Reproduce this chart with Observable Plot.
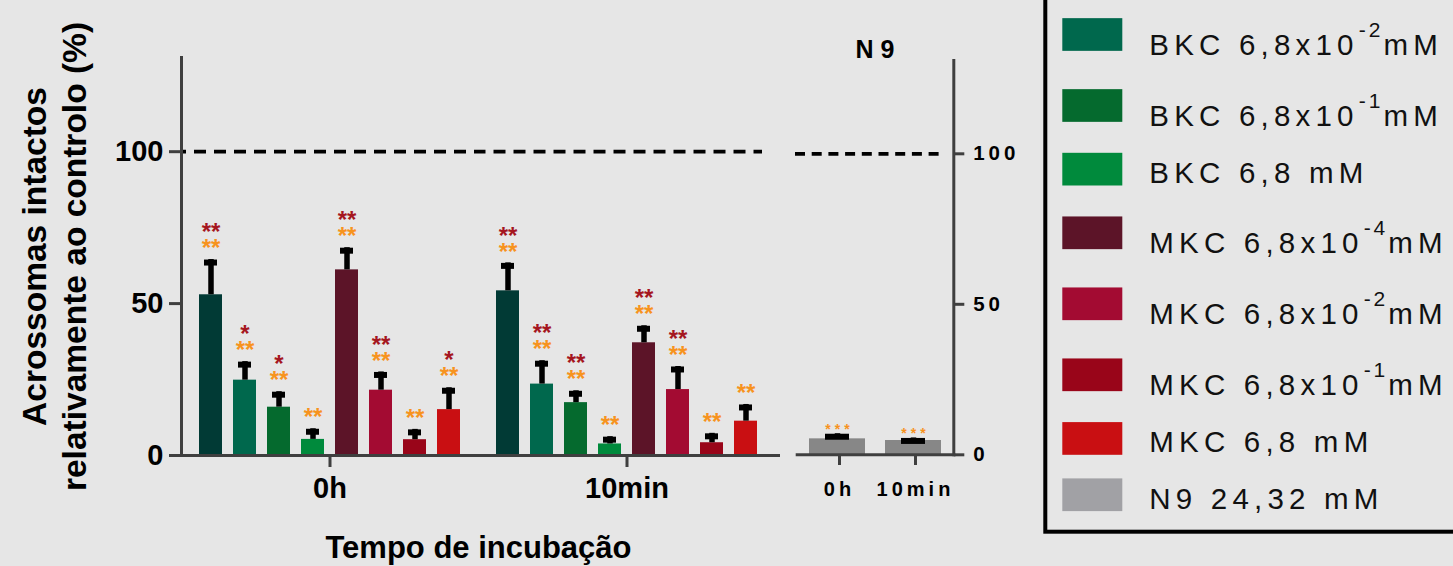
<!DOCTYPE html>
<html>
<head>
<meta charset="utf-8">
<script src="https://cdn.jsdelivr.net/npm/d3@7"></script>
<script src="https://cdn.jsdelivr.net/npm/@observablehq/plot@0.6"></script>
<style>
  html, body { margin: 0; padding: 0; background: #e6e6e6; }
  #root { position: relative; width: 1453px; height: 566px; overflow: hidden; background: #e6e6e6; }
  #root > svg { position: absolute; top: 0; }
</style>
</head>
<body>
<div id="root"></div>
<script>
// ---------- data ----------
const times = ["0h", "10min"];
const treatments = [
  "BKC 6,8x10-3mM", "BKC 6,8x10-2mM", "BKC 6,8x10-1mM", "BKC 6,8 mM",
  "MKC 6,8x10-4mM", "MKC 6,8x10-2mM", "MKC 6,8x10-1mM", "MKC 6,8 mM"
];
const barColors = ["#013a35", "#00684d", "#056a2e", "#008a3c", "#5c1428", "#a30b32", "#990519", "#c90f12"];

const mean0h  = [52.9, 24.8, 15.9, 5.3, 61.1, 21.5, 5.2, 15.1];
const sem0h   = [11.6, 6.1, 5.1, 3.5, 7.3, 6.0, 3.4, 7.2];
const mean10  = [54.2, 23.5, 17.4, 3.8, 37.1, 21.7, 4.2, 11.3];
const sem10   = [9.2, 7.7, 3.9, 2.4, 5.6, 7.6, 3.1, 5.5];

const sigRed0h    = ["**", "*", "*", "", "**", "**", "", "*"];
const sigOrange0h = ["**", "**", "**", "**", "**", "**", "**", "**"];
const sigRed10    = ["**", "**", "**", "", "**", "**", "", ""];
const sigOrange10 = ["**", "**", "**", "**", "**", "**", "**", "**"];

const n9Times = ["0h", "10min"];
const n9Mean  = [5.3, 4.75];
const n9Sem   = [1.7, 0.85];
const n9Sig   = ["***", "***"];
const n9Title = "N9";

const legendBase  = ["BKC 6,8x10", "BKC 6,8x10", "BKC 6,8 mM", "MKC 6,8x10", "MKC 6,8x10", "MKC 6,8x10", "MKC 6,8 mM", "N9 24,32 mM"];
const legendSup   = ["-2", "-1", "", "-4", "-2", "-1", "", ""];
const legendTail  = ["mM", "mM", "", "mM", "mM", "mM", "", ""];
const legendColors = [...barColors.slice(1), "#a1a1a5"];

const yTicks = [0, 50, 100];
const controlLevel = 100;
const yLabel = "Acrossomas intactos\nrelativamente ao controlo (%)";
const xLabel = "Tempo de incubação";

// ---------- derived tables ----------
const rows = times.flatMap((t, ti) => treatments.map((tr, i) => {
  const m = ti === 0 ? mean0h[i] : mean10[i];
  const s = ti === 0 ? sem0h[i] : sem10[i];
  const r = ti === 0 ? sigRed0h[i] : sigRed10[i];
  const o = ti === 0 ? sigOrange0h[i] : sigOrange10[i];
  return {time: t, treatment: tr, mean: m, top: m + s, red: r, orange: o, stars: r ? r + "\n" + o : o};
}));
const n9Rows = n9Times.map((t, i) => ({time: t, mean: n9Mean[i], top: n9Mean[i] + n9Sem[i], sig: n9Sig[i]}));

const FONT = "'Liberation Sans', Arial, Helvetica, sans-serif";
const axisColor = "#3f3f3f";
const orange = "#f7931e";
const red = "#a5161f";
const root = document.getElementById("root");

// ---------- left panel ----------
const left = Plot.plot({
  width: 800, height: 566,
  marginLeft: 180, marginRight: 25, marginTop: 57, marginBottom: 111,
  style: {background: "transparent", fontFamily: FONT, fontWeight: "bold", color: "#000", overflow: "visible"},
  fx: {domain: times, paddingInner: 0, paddingOuter: 0, label: null, axis: null},
  x: {domain: treatments, paddingInner: 0.33, paddingOuter: 0.49, axis: null},
  y: {domain: [0, 131], axis: null},
  color: {domain: treatments, range: barColors},
  marks: [
    Plot.ruleY([{time: "0h", level: controlLevel}], {fx: "time", y: "level", stroke: "#000", strokeWidth: 3.8, strokeDasharray: "12,8", strokeDashoffset: 7}),
    Plot.ruleY([{time: "10min", level: controlLevel}], {fx: "time", y: "level", stroke: "#000", strokeWidth: 3.8, strokeDasharray: "12,8", strokeDashoffset: 4.5, insetRight: 13}),
    Plot.barY(rows, {fx: "time", x: "treatment", y: "mean", fill: "treatment"}),
    Plot.ruleX(rows, {fx: "time", x: "treatment", y1: "mean", y2: "top", stroke: "#000", strokeWidth: 5.5}),
    Plot.tickY(rows, {fx: "time", x: "treatment", y: "top", stroke: "#000", strokeWidth: 6, insetLeft: 5, insetRight: 5, dy: 3}),
    Plot.text(rows, {fx: "time", x: "treatment", y: "top", text: "stars", fill: orange, fontSize: 24, lineHeight: 0.667, lineAnchor: "bottom", dy: -3.3, className: "sigstars"}),
    Plot.frame({anchor: "left", facet: "super", stroke: axisColor, strokeWidth: 3}),
    Plot.frame({anchor: "bottom", facet: "super", stroke: axisColor, strokeWidth: 3, insetRight: -3}),
    Plot.axisY({ticks: yTicks, tickSize: 12, tickPadding: 6, fontSize: 29, stroke: axisColor, strokeWidth: 3, fill: "#000", label: null}),
    Plot.axisFx({anchor: "bottom", tickSize: 12, tickPadding: 10, fontSize: 29, stroke: axisColor, strokeWidth: 3, fill: "#000", label: null}),
    Plot.text([yLabel], {text: d => d, frameAnchor: "left", facet: "super", rotate: -90, dx: -128, fontSize: 33.5, lineHeight: 1.18, lineAnchor: "middle", textAnchor: "middle", fill: "#000"}),
    Plot.text([xLabel], {text: d => d, frameAnchor: "bottom", facet: "super", dy: 93, fontSize: 31, lineAnchor: "middle", fill: "#000"})
  ]
});
left.style.left = "0px";
root.appendChild(left);
// first line of a two-line significance label is the red one
d3.select(left).selectAll("text").each(function() {
  const spans = this.querySelectorAll("tspan");
  if (spans.length === 2 && /^\*+$/.test(spans[0].textContent)) spans[0].setAttribute("fill", red);
});

// ---------- right panel (N9) ----------
const right = Plot.plot({
  width: 260, height: 566,
  marginLeft: 16.7, marginRight: 86.7, marginTop: 60, marginBottom: 111.7,
  style: {background: "transparent", fontFamily: FONT, fontWeight: "bold", color: "#000", overflow: "visible", letterSpacing: "4px"},
  x: {domain: n9Times, paddingInner: 0.26, paddingOuter: 0.147, axis: null},
  y: {domain: [0, 131], axis: null},
  marks: [
    Plot.ruleY([controlLevel], {stroke: "#000", strokeWidth: 3.8, strokeDasharray: "10,6.7", insetLeft: -1.7, insetRight: 11.6}),
    Plot.barY(n9Rows, {x: "time", y: "mean", fill: "#878787"}),
    Plot.ruleX(n9Rows, {x: "time", y1: "mean", y2: "top", stroke: "#000", strokeWidth: 5.5}),
    Plot.tickY(n9Rows, {x: "time", y: "top", stroke: "#000", strokeWidth: 6, insetLeft: 16, insetRight: 16, dy: 3}),
    Plot.text(n9Rows, {x: "time", y: "top", text: "sig", fill: orange, fontSize: 14, lineAnchor: "middle", dy: -4.5, dx: 2}),
    Plot.frame({anchor: "right", stroke: axisColor, strokeWidth: 3}),
    Plot.frame({anchor: "bottom", stroke: axisColor, strokeWidth: 3}),
    Plot.axisY({anchor: "right", ticks: yTicks, tickSize: 10, tickPadding: 9.4, fontSize: 20.5, stroke: axisColor, strokeWidth: 3, fill: "#000", label: null}),
    Plot.axisX({anchor: "bottom", tickSize: 10.7, tickPadding: 16.7, fontSize: 20, stroke: axisColor, strokeWidth: 3, fill: "#000", label: null, dx: 2}),
    Plot.text([n9Title], {text: d => d, frameAnchor: "top", dy: -11, fontSize: 25, lineAnchor: "middle", fill: "#000", dx: 3})
  ]
});
right.style.left = "780px";
root.appendChild(right);
d3.select(right).selectAll("text").filter(function() { return this.textContent === n9Title; })
  .style("letter-spacing", "7px");

// ---------- legend ----------
const lg = d3.create("svg")
  .attr("width", 413).attr("height", 566)
  .style("left", "1040px")
  .style("font-family", FONT);
lg.append("rect")
  .attr("x", 5.3).attr("y", -10).attr("width", 500).attr("height", 541.7)
  .attr("fill", "none").attr("stroke", "#000").attr("stroke-width", 4);

const hSup = 71, hNo = 56.3;
const centers = [];
let c = 34.5;
legendBase.forEach((b, i) => {
  if (i > 0) {
    const hPrev = legendSup[i - 1] ? hSup : hNo;
    const hCur = legendSup[i] ? hSup : hNo;
    c += (hPrev + hCur) / 2;
  }
  centers.push(c);
});
legendBase.forEach((b, i) => {
  const cy = centers[i];
  lg.append("rect").attr("x", 22.3).attr("y", cy - 16.35).attr("width", 60).attr("height", 32.7)
    .attr("fill", legendColors[i]);
  const t = lg.append("text")
    .attr("x", 109.3).attr("y", cy + (legendSup[i] ? 20 : 14))
    .attr("font-size", 29.5).attr("letter-spacing", 5.2).attr("fill", "#111");
  t.append("tspan").text(b);
  if (legendSup[i]) {
    t.append("tspan").attr("dy", -17.6).attr("font-size", 21).attr("letter-spacing", 3).text(legendSup[i]);
    t.append("tspan").attr("dy", 17.6).attr("font-size", 29.5).text(legendTail[i]);
  }
});
root.appendChild(lg.node());
</script>
</body>
</html>
